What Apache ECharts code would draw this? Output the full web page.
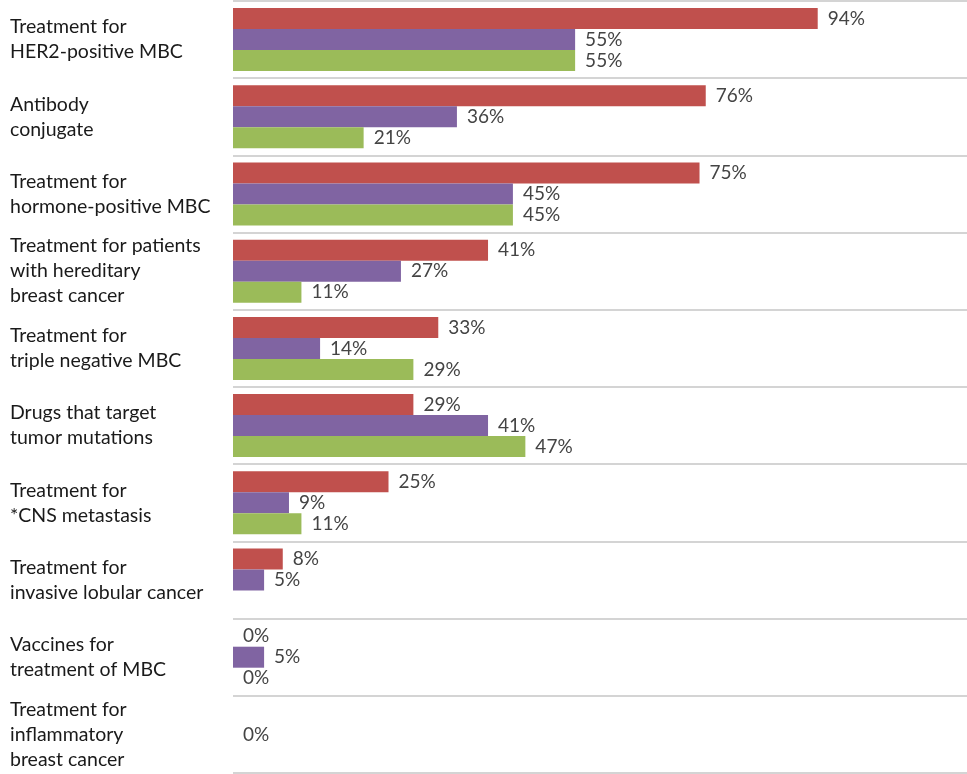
<!DOCTYPE html>
<html>
<head>
<meta charset="utf-8">
<script src="https://cdn.jsdelivr.net/npm/echarts@6/dist/echarts.min.js"></script>
<style>
  html, body { margin: 0; padding: 0; background: #fff; }
  #chart { width: 967px; height: 774px; }
</style>
</head>
<body>
<div id="chart"></div>
<script>
// Treatment areas (top to bottom)
const categories = [
  'Treatment for\nHER2-positive MBC',
  'Antibody\nconjugate',
  'Treatment for\nhormone-positive MBC',
  'Treatment for patients\nwith hereditary\nbreast cancer',
  'Treatment for\ntriple negative MBC',
  'Drugs that target\ntumor mutations',
  'Treatment for\n*CNS metastasis',
  'Treatment for\ninvasive lobular cancer',
  'Vaccines for\ntreatment of MBC',
  'Treatment for\ninflammatory\nbreast cancer'
];

// Percent values per series (null = no bar / no label)
const redValues    = [94, 76, 75, 41, 33, 29, 25, 8, 0, null];
const purpleValues = [55, 36, 45, 27, 14, 41, 9, 5, 5, 0];
const greenValues  = [55, 21, 45, 11, 29, 47, 11, null, 0, null];

const seriesColors = ['#c0504d', '#8064a2', '#9bbb59'];
const fontFamily = 'Lato, "Noto Sans", sans-serif';

function barSeries(data, color) {
  return {
    type: 'bar',
    data: data,
    barWidth: 21,
    barGap: '0%',
    itemStyle: { color: color },
    label: {
      show: true,
      position: 'right',
      distance: 10,
      formatter: p => p.value == null ? '' : p.value + '%',
      color: '#444',
      fontSize: 19,
      fontFamily: fontFamily
    },
    emphasis: { disabled: true },
    animation: false
  };
}

const chart = echarts.init(document.getElementById('chart'));
chart.setOption({
  animation: false,
  grid: { left: 233, right: 0, top: 1, bottom: 1, containLabel: false },
  xAxis: {
    type: 'value',
    min: 0,
    max: 118,
    show: false
  },
  yAxis: {
    type: 'category',
    data: categories,
    inverse: true,
    axisLine: { show: false },
    axisTick: { show: false },
    splitLine: { show: true, lineStyle: { color: '#d4d4d4', width: 2 } },
    axisLabel: {
      align: 'left',
      margin: 223,
      color: '#1a1a1a',
      fontSize: 19.5,
      lineHeight: 25,
      fontFamily: fontFamily
    }
  },
  series: [
    barSeries(redValues, seriesColors[0]),
    barSeries(purpleValues, seriesColors[1]),
    barSeries(greenValues, seriesColors[2])
  ]
});
</script>
</body>
</html>
